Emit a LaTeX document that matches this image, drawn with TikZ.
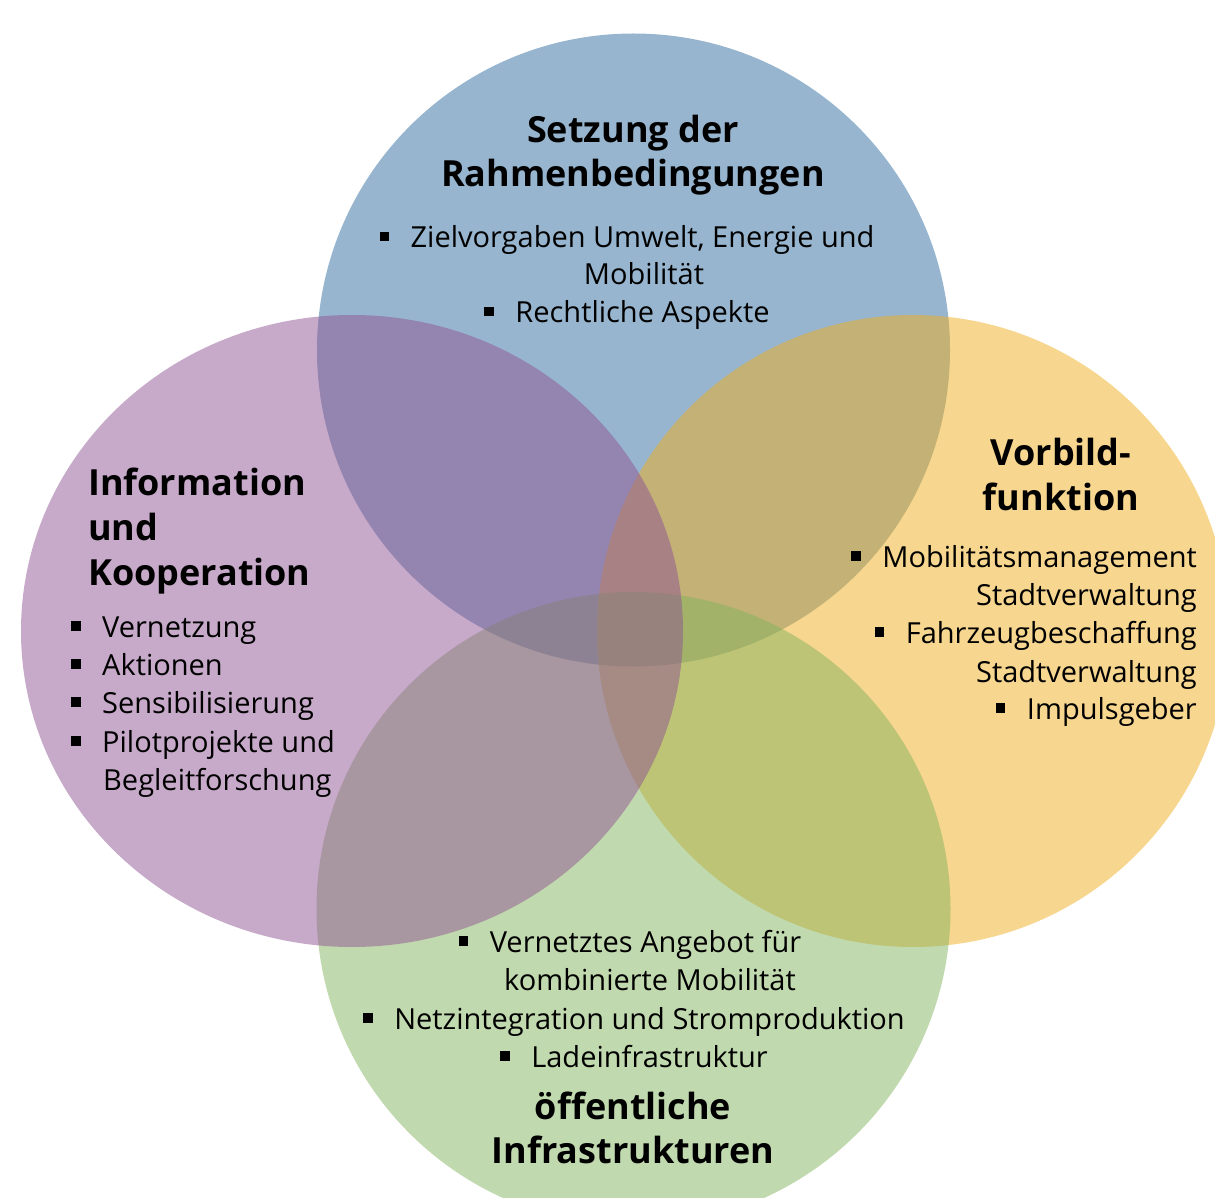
\documentclass[tikz,border=0pt]{standalone}
\usepackage{fontspec}
\setmainfont{Open Sans}
\newcommand\bul{\raisebox{6.5pt}{\rule{9.5pt}{9.5pt}}\hspace{21.5pt}}
\definecolor{cblue}{RGB}{47,107,157}
\definecolor{cyellow}{RGB}{239,173,31}
\definecolor{cgreen}{RGB}{131,179,93}
\definecolor{cpurple}{RGB}{143,83,147}
\begin{document}
\begin{tikzpicture}[x=1pt,y=-1pt,
  circ/.style={fill opacity=0.5,draw=none},
  body/.style={inner sep=0pt,font=\fontsize{29}{35}\selectfont},
  head/.style={inner sep=0pt,font=\fontsize{36}{44}\selectfont\bfseries}]
\useasboundingbox (0,0) rectangle (1215,1198);
\begin{scope}
\clip (0,0) rectangle (1215,1198);
\fill[cblue,circ] (633.5,350) circle[radius=316.5pt];
\fill[cyellow,circ] (913,631) circle[radius=316pt];
\fill[cgreen,circ] (633.5,909) circle[radius=317pt];
\fill[cpurple,circ] (352,631) ellipse[x radius=331pt,y radius=316pt];
\end{scope}
% top
\node[head,anchor=base] (t1) at (633,143) {Setzung der};
\node[head,anchor=base] (t2) at (633,187) {Rahmenbedingungen};
\node[body,anchor=base] (t3) at (627,248) {\bul Zielvorgaben Umwelt, Energie und};
\node[body,anchor=base] (t4) at (644,285) {Mobilität};
\node[body,anchor=base] (t5) at (627,323) {\bul Rechtliche Aspekte};
% left
\node[head,anchor=base west] (l1) at (88,495) {Information};
\node[head,anchor=base west] (l2) at (88,540) {und};
\node[head,anchor=base west] (l3) at (88,585) {Kooperation};
\node[body,anchor=base west] (l4) at (71,637) {\bul Vernetzung};
\node[body,anchor=base west] (l5) at (71,675) {\bul Aktionen};
\node[body,anchor=base west] (l6) at (71,713) {\bul Sensibilisierung};
\node[body,anchor=base west] (l7) at (71,752) {\bul Pilotprojekte und};
\node[body,anchor=base west] (l8) at (103,790) {Begleitforschung};
% right
\node[head,anchor=base] (r1) at (1061,465) {Vorbild-};
\node[head,anchor=base] (r2) at (1061,510) {funktion};
\node[body,anchor=base east] (r3) at (1197,567) {\bul Mobilitätsmanagement};
\node[body,anchor=base east] (r4) at (1197,605) {Stadtverwaltung};
\node[body,anchor=base east] (r5) at (1197,643) {\bul Fahrzeugbeschaffung};
\node[body,anchor=base east] (r6) at (1197,682) {Stadtverwaltung};
\node[body,anchor=base east] (r7) at (1197,719) {\bul Impulsgeber};
% bottom
\node[body,anchor=base] (b1) at (630,952) {\bul Vernetztes Angebot für};
\node[body,anchor=base] (b2) at (650,990) {kombinierte Mobilität};
\node[body,anchor=base] (b3) at (634,1029) {\bul Netzintegration und Stromproduktion};
\node[body,anchor=base] (b4) at (634,1067) {\bul Ladeinfrastruktur};
\node[head,anchor=base] (b5) at (633,1119) {öffentliche};
\node[head,anchor=base] (b6) at (633,1163) {Infrastrukturen};
\end{tikzpicture}
\end{document}
